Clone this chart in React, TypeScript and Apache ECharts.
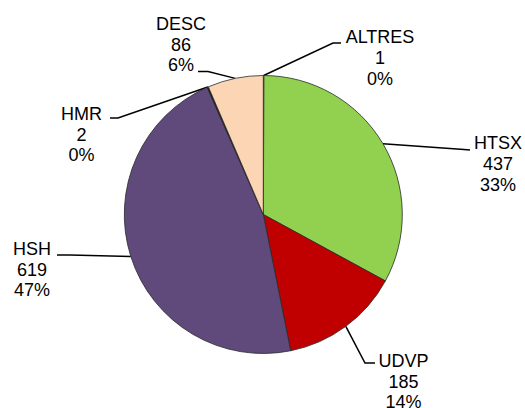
import React, { useEffect, useRef } from "react";
import * as echarts from "echarts";

const categories = ["ALTRES", "HTSX", "UDVP", "HSH", "HMR", "DESC"];
const values = [1, 437, 185, 619, 2, 86];
const colors = ["#1c1c1c", "#92D050", "#C00000", "#604A7B", "#141414", "#FCD5B5"];

// label anchor (text centre x, first-line baseline y) and leader-line bends
const labelAnchors: Record<string, [number, number]> = {
  ALTRES: [380, 43.5],
  HTSX: [498, 149.5],
  UDVP: [403.5, 367],
  HSH: [32, 255],
  HMR: [81.5, 120],
  DESC: [181, 30],
};
const leaderBends: Record<string, [[number, number], [number, number]]> = {
  ALTRES: [[333, 43], [341, 43]],
  HTSX: [[464, 149.5], [470, 150]],
  UDVP: [[365, 363], [375, 363]],
  HSH: [[70, 255], [57, 255]],
  HMR: [[118, 118], [110, 118]],
  DESC: [[208, 71.5], [198, 71.5]],
};

const FONT_SIZE = 18;
const LINE_H = 20.8;
const FONT = "'Liberation Sans', Arial, sans-serif";
const CENTER: [number, number] = [263.3, 214.5];
const RADIUS = 139;

export default function App() {
  const ref = useRef<HTMLDivElement>(null);
  useEffect(() => {
    if (!ref.current) return;
    const chart = echarts.init(ref.current, undefined, { renderer: "svg" });
    const data = categories.map((c, i) => ({
      name: c,
      value: values[i],
      itemStyle: { color: colors[i] },
    }));
    chart.setOption({
      animation: false,
      backgroundColor: "#ffffff",
      series: [
        {
          type: "pie",
          center: CENTER,
          radius: RADIUS,
          startAngle: 90,
          clockwise: true,
          avoidLabelOverlap: false,
          minShowLabelAngle: 0,
          itemStyle: { borderColor: "#2a2a2a", borderWidth: 0.8 },
          emphasis: { disabled: true },
          label: {
            show: true,
            position: "outside",
            formatter: (p: any) =>
              `{t|${p.name}}\n{t|${p.value}}\n{t|${Math.round(p.percent)}%}`,
            fontFamily: FONT,
            fontSize: FONT_SIZE,
            lineHeight: LINE_H,
            color: "#000000",
            align: "center",
            rich: {
              t: {
                align: "center",
                fontFamily: FONT,
                fontSize: FONT_SIZE,
                lineHeight: LINE_H,
                color: "#000000",
              },
            },
          },
          labelLine: {
            show: true,
            lineStyle: { color: "#000000", width: 1.5 },
          },
          labelLayout: (params: any) => {
            const name = categories[params.dataIndex];
            const a = labelAnchors[name];
            const b = leaderBends[name];
            const start =
              params.labelLinePoints && params.labelLinePoints[0]
                ? params.labelLinePoints[0]
                : CENTER;
            const top = a[1] - 0.3465 * FONT_SIZE - LINE_H / 2;
            return {
              x: a[0],
              y: top,
              align: "center",
              verticalAlign: "top",
              labelLinePoints: [start, b[0], b[1]],
            };
          },
          data,
        },
      ],
    });
    return () => chart.dispose();
  }, []);
  return (
    <div
      ref={ref}
      style={{ position: "fixed", left: 0, top: 0, width: 525, height: 408, background: "#fff" }}
    />
  );
}
